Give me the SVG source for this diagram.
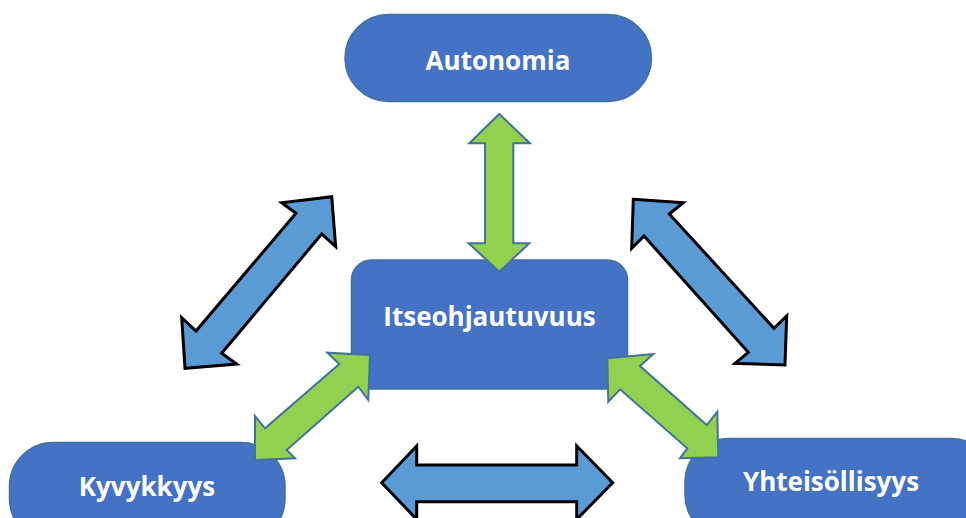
<svg xmlns="http://www.w3.org/2000/svg" width="966" height="518" viewBox="0 0 966 518">
<style>
.node{fill:#4472C4;stroke:#41719C;stroke-width:1.5}
.lbl{font-family:"Open Sans","Liberation Sans",sans-serif;font-weight:bold;font-size:26px;fill:#ffffff;text-anchor:middle}
.blue{fill:#5B9BD5;stroke:#000000;stroke-width:3;stroke-linejoin:miter}
.green{fill:#92D050;stroke:#41719C;stroke-width:2;stroke-linejoin:miter}
</style>
<rect width="966" height="518" fill="#ffffff"/>
<g id="autonomia">
<rect class="node" x="345" y="14.5" width="306.5" height="87" rx="43.5"/>
<text class="lbl" x="498" y="70">Autonomia</text>
</g>
<g id="itseohjautuvuus">
<rect class="node" x="351.5" y="260" width="276" height="129" rx="20"/>
<text class="lbl" x="489.5" y="326">Itseohjautuvuus</text>
</g>
<g id="kyvykkyys">
<rect class="node" x="9.5" y="442.5" width="275.5" height="100" rx="44"/>
<text class="lbl" x="147" y="496">Kyvykkyys</text>
</g>
<g id="yhteisollisyys">
<rect class="node" x="685" y="438.5" width="310" height="100" rx="44"/>
<text class="lbl" x="831" y="491">Yhteisöllisyys</text>
</g>
<g id="connectors">
<polygon class="blue" points="331.7,196.7 335.7,246.7 321.7,234 221.7,353.3 236.7,364 185,368.3 181.7,317.7 196,331 296,213.3 281.7,202.7"/>
<polygon class="blue" points="633.3,199.3 683.3,202.7 669.3,214 774,328.3 786.7,316 785,365 735,363.3 748.3,352.3 644,236 631.7,248.3"/>
<polygon class="blue" points="381.7,482.7 416.7,446 416.7,465 576.7,465 576.7,446 612.7,482.7 576.7,519.4 576.7,501.7 416.7,501.7 416.7,519.4"/>
<polygon class="green" points="499.3,114 530,143.3 513.3,143.3 513.3,243.3 529.3,243.3 499.3,271.7 468.7,243.3 485,243.3 485,143.3 469.3,143.3"/>
<polygon class="green" points="370,355 368.3,400 358.3,386.7 286.7,450 295,458.3 255,460 255,416 265,428.3 339.3,364 327.3,352.7"/>
<polygon class="green" points="607.3,358.3 653.3,354 640,366 706.7,425 717.3,411.7 718.3,457.3 680,458.3 687.3,448.3 620,389.3 608.3,401.7"/>
</g>
</svg>
